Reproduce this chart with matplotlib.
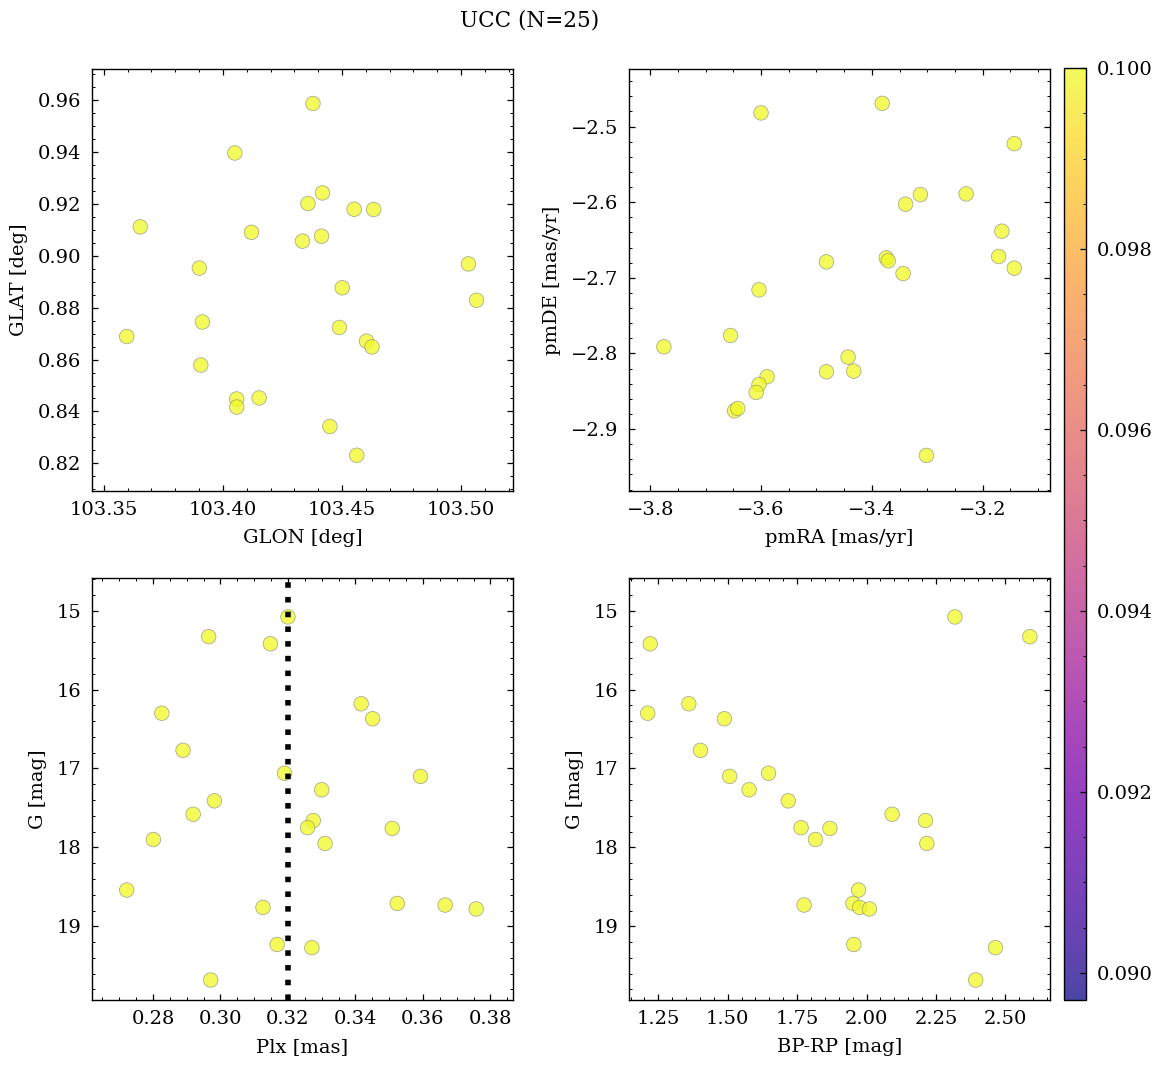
import matplotlib
matplotlib.use("Agg")
import matplotlib.pyplot as plt
from matplotlib.ticker import AutoMinorLocator, MultipleLocator

# === Data ===
glon = [103.4378, 103.4050, 103.4418, 103.4357, 103.4551, 103.4633, 103.3653, 103.4120,
        103.4334, 103.4414, 103.3901, 103.5031, 103.4501, 103.5065, 103.3914, 103.4489,
        103.3596, 103.4603, 103.4626, 103.3907, 103.4058, 103.4058, 103.4152, 103.4449,
        103.4562]
glat = [0.9588, 0.9397, 0.9243, 0.9202, 0.9180, 0.9179, 0.9112, 0.9091, 0.9057, 0.9076,
        0.8953, 0.8969, 0.8877, 0.8829, 0.8745, 0.8724, 0.8689, 0.8671, 0.8649, 0.8579,
        0.8448, 0.8417, 0.8452, 0.8342, 0.8231]

pmra = [-3.3812, -3.6000, -3.1428, -3.3123, -3.2297, -3.3391, -3.1652, -3.4819, -3.3739,
        -3.3703, -3.1710, -3.1428, -3.3435, -3.6036, -3.6551, -3.7754, -3.4428, -3.4819,
        -3.4326, -3.5891, -3.6036, -3.6087, -3.6478, -3.6420, -3.3014]
pmde = [-2.4692, -2.4819, -2.5225, -2.5899, -2.5890, -2.6026, -2.6383, -2.6789, -2.6736,
        -2.6775, -2.6718, -2.6872, -2.6943, -2.7159, -2.7762, -2.7912, -2.8048, -2.8242,
        -2.8233, -2.8308, -2.8410, -2.8515, -2.8758, -2.8727, -2.9348]

plx = [0.3200, 0.2965, 0.3148, 0.3417, 0.2826, 0.3451, 0.2889, 0.3190, 0.3593, 0.3300,
       0.2982, 0.2919, 0.3275, 0.3258, 0.3509, 0.2801, 0.3310, 0.2722, 0.3524, 0.3666,
       0.3126, 0.3758, 0.3168, 0.3271, 0.2971]
gmag = [15.08, 15.33, 15.42, 16.18, 16.30, 16.37, 16.77, 17.06, 17.10, 17.27, 17.41, 17.58,
        17.66, 17.75, 17.76, 17.90, 17.95, 18.54, 18.71, 18.73, 18.76, 18.78, 19.23, 19.27,
        19.68]
bp_rp = [2.318, 2.588, 1.221, 1.360, 1.212, 1.488, 1.402, 1.647, 1.507, 1.577, 1.718, 2.092,
         2.212, 1.764, 1.868, 1.816, 2.217, 1.971, 1.951, 1.775, 1.975, 2.010, 1.954, 2.464,
         2.393]

probs = [0.1, 0.1, 0.1, 0.1, 0.1, 0.1, 0.1, 0.1, 0.1, 0.1, 0.1, 0.1, 0.1,
         0.1, 0.1, 0.1, 0.1, 0.1, 0.1, 0.1, 0.1, 0.1, 0.1, 0.1, 0.1]
plx_ref = 0.32

# === Style ===
plt.rcParams.update({
    "font.family": "serif",
    "font.serif": ["DejaVu Serif"],
    "font.size": 14,
    "xtick.direction": "in",
    "ytick.direction": "in",
    "xtick.top": True,
    "ytick.right": True,
    "xtick.major.size": 4.5,
    "ytick.major.size": 4.5,
    "xtick.minor.size": 2.3,
    "ytick.minor.size": 2.3,
    "xtick.major.width": 0.9,
    "ytick.major.width": 0.9,
    "xtick.minor.width": 0.7,
    "ytick.minor.width": 0.7,
    "xtick.major.pad": 7.5,
    "ytick.major.pad": 7.5,
    "axes.labelpad": 7,
    "axes.linewidth": 1.0,
})

fig, axes = plt.subplots(2, 2, figsize=(11.61, 10.68), dpi=100)
fig.subplots_adjust(left=0.0792, right=0.9044, top=0.9354, bottom=0.0637,
                    wspace=0.2755, hspace=0.206)

kw = dict(c=probs, cmap="plasma", vmin=0.0897, vmax=0.1, s=110, alpha=0.75,
          edgecolors="gray", linewidths=0.5, zorder=2)

# --- GLON / GLAT ---
ax = axes[0, 0]
sc = ax.scatter(glon, glat, **kw)
ax.set_xlim(103.345, 103.5218)
ax.set_ylim(0.8093, 0.9721)
ax.xaxis.set_major_locator(MultipleLocator(0.05))
ax.yaxis.set_major_locator(MultipleLocator(0.02))
ax.set_xlabel("GLON [deg]")
ax.set_ylabel("GLAT [deg]")

# --- proper motions ---
ax = axes[0, 1]
ax.scatter(pmra, pmde, **kw)
ax.set_xlim(-3.8384, -3.0783)
ax.set_ylim(-2.9819, -2.4238)
ax.xaxis.set_major_locator(MultipleLocator(0.2))
ax.yaxis.set_major_locator(MultipleLocator(0.1))
ax.set_xlabel("pmRA [mas/yr]")
ax.set_ylabel("pmDE [mas/yr]")

# --- parallax vs G ---
ax = axes[1, 0]
ax.scatter(plx, gmag, **kw)
ax.axvline(plx_ref, color="black", linestyle=":", linewidth=4, zorder=3)
ax.set_xlim(0.2619, 0.3867)
ax.set_ylim(19.933, 14.586)
ax.xaxis.set_major_locator(MultipleLocator(0.02))
ax.yaxis.set_major_locator(MultipleLocator(1))
ax.set_xlabel("Plx [mas]")
ax.set_ylabel("G [mag]")

# --- CMD ---
ax = axes[1, 1]
ax.scatter(bp_rp, gmag, **kw)
ax.set_xlim(1.1445, 2.6604)
ax.set_ylim(19.933, 14.586)
ax.xaxis.set_major_locator(MultipleLocator(0.25))
ax.yaxis.set_major_locator(MultipleLocator(1))
ax.set_xlabel("BP-RP [mag]")
ax.set_ylabel("G [mag]")

for ax in axes.ravel():
    ax.xaxis.set_minor_locator(AutoMinorLocator())
    ax.yaxis.set_minor_locator(AutoMinorLocator())

cax = fig.add_axes([0.9164, 0.0637, 0.019, 0.8726])
cb = fig.colorbar(sc, cax=cax)
cb.set_ticks([0.090, 0.092, 0.094, 0.096, 0.098, 0.100])
cb.ax.yaxis.set_minor_locator(AutoMinorLocator())
cb.ax.tick_params(which="both", direction="in", right=True, left=False)

fig.suptitle("UCC (N=25)", fontsize=15.5, x=0.4565, y=0.991)

fig.savefig("out.png", dpi=100)
